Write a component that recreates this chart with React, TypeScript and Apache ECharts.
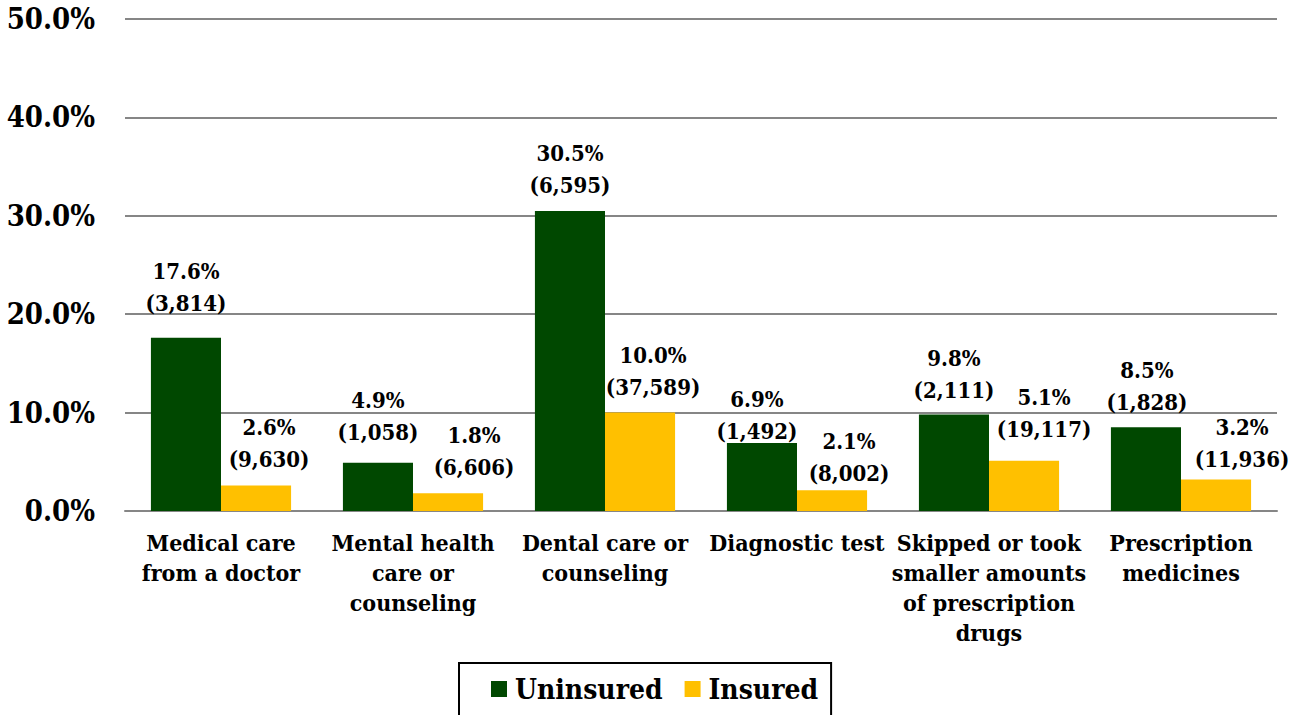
import React, { useEffect, useRef } from "react";
import * as echarts from "echarts";

const categories = [
  "Medical care\nfrom a doctor",
  "Mental health\ncare or\ncounseling",
  "Dental care or\ncounseling",
  "Diagnostic test",
  "Skipped or took\nsmaller amounts\nof prescription\ndrugs",
  "Prescription\nmedicines",
];
const uninsuredPct = [17.6, 4.9, 30.5, 6.9, 9.8, 8.5];
const uninsuredCounts = ["3,814", "1,058", "6,595", "1,492", "2,111", "1,828"];
const insuredPct = [2.6, 1.8, 10.0, 2.1, 5.1, 3.2];
const insuredCounts = ["9,630", "6,606", "37,589", "8,002", "19,117", "11,936"];

// manual label nudges (layout only)
const uninsuredOffsets = [[0, -14], [0, -10], [0, -5], [-5, 9], [0, -4], [1, -4]];
const insuredOffsets = [[13, -5], [26, -5], [13, -5], [17, 4], [20, -11], [26, 0]];

const FONT = "DejaVu Serif Condensed";
const GREEN = "#004800";
const YELLOW = "#FFC000";

export default function App() {
  const ref = useRef<HTMLDivElement>(null);
  useEffect(() => {
    if (!ref.current) return;
    const chart = echarts.init(ref.current, null, { renderer: "svg" });
    const labelBase = {
      show: true,
      position: "top",
      distance: 5,
      fontFamily: FONT,
      fontWeight: "bold",
      fontSize: 22,
      lineHeight: 32,
      color: "#000",
      align: "center",
    };
    const mk = (vals: number[], counts: string[], offs: number[][]) =>
      vals.map((v, i) => ({
        value: v,
        label: { ...labelBase, offset: offs[i], formatter: `${v.toFixed(1)}%\n(${counts[i]})` },
      }));
    chart.setOption({
      animation: false,
      backgroundColor: "#fff",
      grid: { left: 125, right: 21, top: 19, bottom: 204, containLabel: false, outerBoundsMode: "none" },
      legend: {
        data: ["Uninsured", "Insured"],
        left: 459,
        top: 663,
        icon: "rect",
        itemWidth: 16,
        itemHeight: 16,
        itemGap: 22,
        padding: [12, 13, 22, 32],
        borderColor: "#000",
        borderWidth: 2,
        textStyle: { fontFamily: FONT, fontWeight: "bold", fontSize: 28, color: "#000", padding: [0, 0, 0, 3] },
      },
      xAxis: {
        type: "category",
        data: categories,
        axisLine: { show: true, lineStyle: { color: "#868686", width: 2 } },
        axisTick: { show: false },
        axisLabel: {
          interval: 0,
          margin: 16,
          fontFamily: FONT,
          fontWeight: "bold",
          fontSize: 23,
          lineHeight: 30,
          color: "#000",
        },
      },
      yAxis: {
        type: "value",
        min: 0,
        max: 50,
        interval: 10,
        axisLine: { show: false },
        axisTick: { show: false },
        splitLine: { lineStyle: { color: "#868686", width: 2 } },
        axisLabel: {
          margin: 30,
          fontFamily: FONT,
          fontWeight: "bold",
          fontSize: 29,
          color: "#000",
          formatter: (v: number) => `${v.toFixed(1)}%`,
        },
      },
      series: [
        {
          name: "Uninsured",
          type: "bar",
          barGap: "0%",
          barCategoryGap: "27%",
          itemStyle: { color: GREEN },
          data: mk(uninsuredPct, uninsuredCounts, uninsuredOffsets),
        },
        {
          name: "Insured",
          type: "bar",
          barGap: "0%",
          barCategoryGap: "27%",
          itemStyle: { color: YELLOW },
          data: mk(insuredPct, insuredCounts, insuredOffsets),
        },
      ],
    });
    return () => chart.dispose();
  }, []);
  return (
    <div
      ref={ref}
      style={{ position: "absolute", left: 0, top: 0, width: 1298, height: 715, background: "#fff" }}
    />
  );
}
